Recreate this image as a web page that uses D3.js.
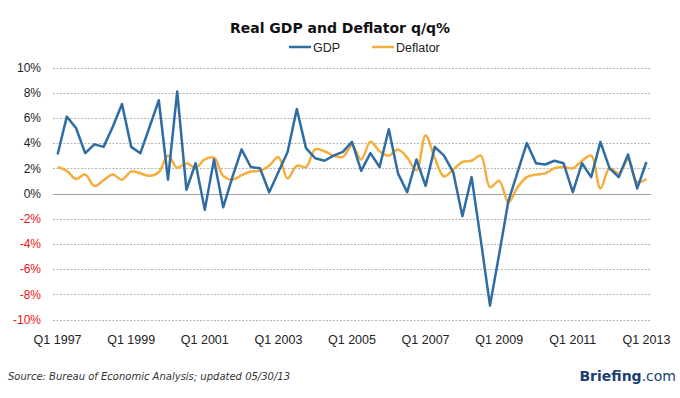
<!DOCTYPE html>
<html><head><meta charset="utf-8">
<script src="https://cdn.jsdelivr.net/npm/d3@7"></script>
<style>body{margin:0;background:#fff}svg{display:block}</style>
</head><body><svg id="c" width="680" height="398"></svg>
<script>
const quarters = d3.range(65).map(i => "Q" + (i % 4 + 1) + " " + (1997 + Math.floor(i / 4)));
const gdp = [3.1,6.1,5.2,3.2,3.9,3.7,5.3,7.1,3.7,3.2,5.3,7.4,1.1,8.1,0.3,2.4,
  -1.3,2.7,-1.1,1.3,3.5,2.1,2.0,0.1,1.7,3.3,6.7,3.6,2.8,2.6,3.0,3.3,
  4.1,1.8,3.2,2.1,5.1,1.6,0.1,2.7,0.6,3.7,3.0,1.7,-1.8,1.3,-3.7,-8.9,
  -4.8,-0.6,1.7,4.0,2.4,2.3,2.6,2.4,0.1,2.4,1.3,4.1,2.0,1.3,3.1,0.4,2.5];
const deflator = [2.1,1.8,1.15,1.5,0.6,1.05,1.5,1.1,1.75,1.6,1.4,1.7,3.0,2.05,2.4,2.05,
  2.7,2.85,1.4,1.1,1.45,1.75,1.8,2.2,2.9,1.2,2.2,2.1,3.5,3.35,3.0,2.9,
  3.8,2.7,4.1,3.35,3.0,3.5,2.85,1.85,4.6,2.8,1.35,1.9,2.5,2.6,3.0,0.5,
  1.0,-0.7,0.5,1.3,1.5,1.6,2.0,2.1,2.0,2.6,3.0,0.4,2.0,1.6,2.7,0.9,1.15];
const yTicks = [-10,-8,-6,-4,-2,0,2,4,6,8,10];
const xTickLabels = ["Q1 1997","Q1 1999","Q1 2001","Q1 2003","Q1 2005","Q1 2007","Q1 2009","Q1 2011","Q1 2013"];
const seriesNames = ["GDP","Deflator"];
const colors = ["#2e6ca4","#f5ae3d"];

const svg = d3.select("#c");
const x = d3.scaleBand().domain(quarters).range([53, 651]).padding(0);
const cx = q => x(q) + x.bandwidth() / 2;
const y = d3.scaleLinear().domain([-10, 10]).range([319.5, 67.5]);

// gridlines
svg.append("g").selectAll("line").data(yTicks).join("line")
  .attr("x1", 53).attr("x2", 651)
  .attr("y1", d => Math.round(y(d)) + 0.5).attr("y2", d => Math.round(y(d)) + 0.5)
  .attr("stroke", d => d === 0 ? "#a0a0a0" : "#b4b4b4")
  .attr("stroke-width", 1)
  .attr("stroke-dasharray", d => d === 0 ? null : "2,1.5");

// y axis
const yAxis = d3.axisLeft(y).tickValues(yTicks).tickFormat(d => d + "%").tickSize(0).tickPadding(0);
const yg = svg.append("g").attr("transform", "translate(41,0)").call(yAxis);
yg.select(".domain").remove();
yg.selectAll("text").attr("font-family", "Liberation Sans, Arial, sans-serif").attr("font-size", 12)
  .attr("fill", d => d < 0 ? "#ee1111" : "#222");

// x axis
const xAxis = d3.axisBottom(x).tickValues(quarters.filter(q => xTickLabels.includes(q))).tickSize(0).tickPadding(0);
const xg = svg.append("g").attr("transform", "translate(0,335)").call(xAxis);
xg.select(".domain").remove();
xg.selectAll("text").attr("font-family", "Liberation Sans, Arial, sans-serif").attr("font-size", 12.5).attr("fill", "#222");

// lines
const lineGdp = d3.line().x((d, i) => cx(quarters[i])).y(d => y(d));
const lineDef = d3.line().x((d, i) => cx(quarters[i])).y(d => y(d)).curve(d3.curveCatmullRom.alpha(0.5));
svg.append("path").datum(deflator).attr("d", lineDef).attr("fill", "none")
  .attr("stroke", colors[1]).attr("stroke-width", 2.5).attr("stroke-linejoin", "round");
svg.append("path").datum(gdp).attr("d", lineGdp).attr("fill", "none")
  .attr("stroke", colors[0]).attr("stroke-width", 2.5).attr("stroke-linejoin", "round");

// title
svg.append("text").attr("x", 340).attr("y", 33).attr("text-anchor", "middle")
  .attr("font-family", "DejaVu Sans, sans-serif").attr("font-weight", "bold").attr("font-size", 14)
  .attr("fill", "#111").text("Real GDP and Deflator q/q%");

// legend
const legX = [289, 372];
seriesNames.forEach((n, i) => {
  svg.append("line").attr("x1", legX[i]).attr("x2", legX[i] + 22).attr("y1", 47).attr("y2", 47)
    .attr("stroke", colors[i]).attr("stroke-width", 2.5);
  svg.append("text").attr("x", legX[i] + 24).attr("y", 51.5)
    .attr("font-family", "Liberation Sans, Arial, sans-serif").attr("font-size", 12.5).attr("fill", "#222").text(n);
});

// source
svg.append("text").attr("x", 8).attr("y", 380)
  .attr("font-family", "DejaVu Sans, sans-serif").attr("font-style", "italic").attr("font-size", 10)
  .attr("fill", "#333").text("Source: Bureau of Economic Analysis; updated 05/30/13");
const br = svg.append("text").attr("x", 676).attr("y", 381).attr("text-anchor", "end")
  .attr("font-family", "DejaVu Sans, sans-serif").attr("font-size", 14).attr("fill", "#1c3f73");
br.append("tspan").attr("font-weight", "bold").text("Briefing");
br.append("tspan").text(".com");
</script></body></html>
